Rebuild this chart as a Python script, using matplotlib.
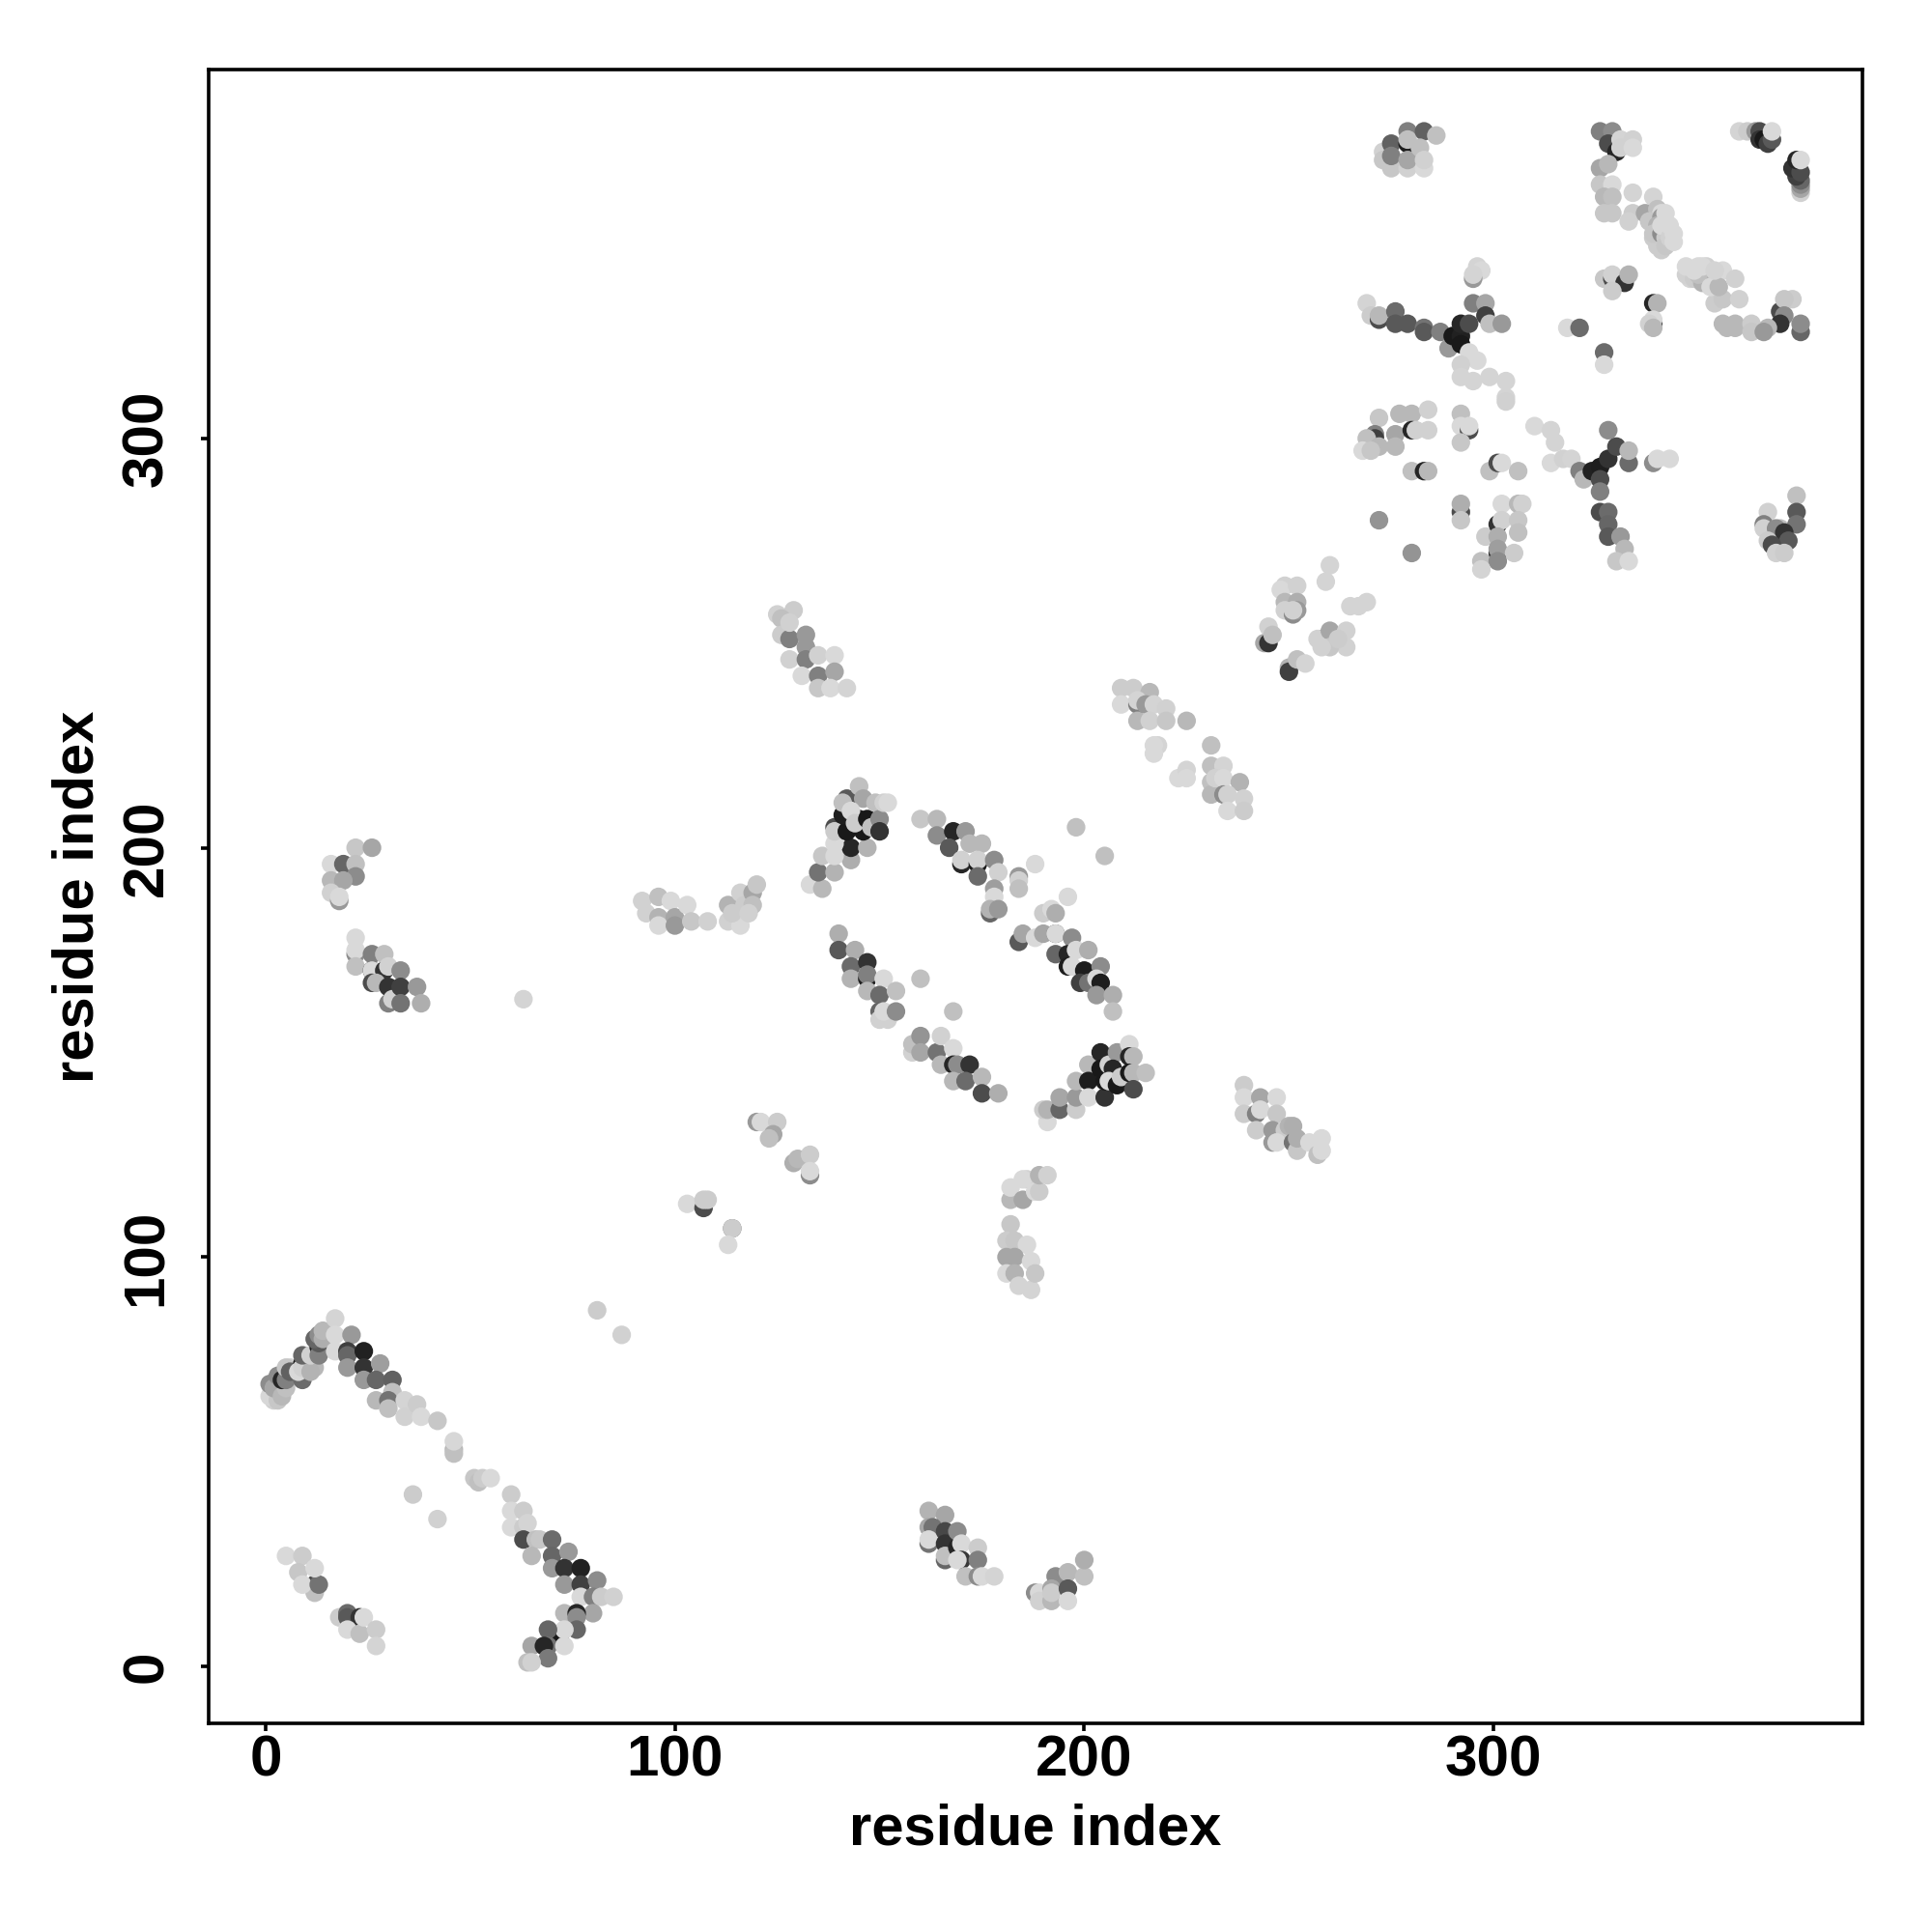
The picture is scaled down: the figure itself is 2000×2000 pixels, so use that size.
import numpy as np
import matplotlib
matplotlib.use('Agg')
import matplotlib.pyplot as plt

# contact points: (residue i, residue j, grey level), back to front
arch_left = [(2,65,.82),(1,66,.84),(3,65,.78),(1,69,.55),(2,68,.65),(4,66,.72),(5,68,.75),(3,71,.55),(4,70,.15),
             (5,70,.5),(9,70,.42),(6,73,.82),(5,73,.78),(6,72,.38),(9,74,.1),(8,72,.85),(9,73,.82),(12,73,.72),
             (11,72,.7),(9,76,.4),(11,76,.82),(13,78,.12),(13,76,.5),(13,79,.35),(12,80,.4),(13,81,.55),(14,80,.68),(14,82,.72)]
arch_right = [(17,85,.83),(17,81,.85),(17,77,.85),(21,81,.6),(20,77,.25),(20,76,.4),(24,77,.13),(20,73,.6),(24,73,.2),
              (28,74,.62),(24,70,.6),(27,70,.4),(31,70,.38),(27,65,.72),(31,67,.75),(30,65,.45),(30,63,.75),(34,65,.83),
              (34,61,.82),(37,64,.8),(38,61,.85),(42,60,.78),(46,53,.72),(46,52,.75),(46,55,.84),(51,46,.78),(52,45,.75),
              (53,46,.8),(55,46,.85),(36,42,.8),(42,36,.82),(81,87,.8),(87,81,.82)]
vee = [(60,42,.8),(60,38,.85),(63,38,.8),(60,34,.85),(63,34,.8),(64,35,.83),(63,31,.3),(66,31,.75),(67,31,.78),(65,27,.72),
       (70,31,.42),(70,27,.4),(70,24,.6),(74,28,.6),(73,24,.2),(77,24,.13),(73,20,.6),(77,20,.25),(81,21,.55),(77,17,.85),
       (80,17,.5),(82,17,.8),(85,17,.82),(80,13,.65),(73,13,.72),(76,13,.15),(76,12,.55),(76,9,.4),(72,8,.1),(73,9,.85),
       (69,9,.4),(69,5,.45),(65,5,.65),(68,5,.15),(73,5,.85),(69,2,.48),(64,1,.75),(65,1,.82)]
low_left = [(5,27,.85),(9,27,.8),(8,23,.78),(12,20,.3),(12,18,.75),(9,20,.85),(13,20,.45),(12,24,.85),(18,12,.8),(20,13,.42),
            (20,12,.35),(23,12,.2),(20,9,.85),(23,8,.75),(24,12,.85),(27,9,.8),(27,5,.83)]
low_mid = [(162,38,.7),(166,37,.65),(162,34,.65),(163,34,.45),(162,30,.45),(162,31,.85),(166,33,.28),(166,30,.2),(166,26,.4),
           (166,27,.75),(169,33,.55),(169,29,.15),(170,30,.85),(170,26,.22),(169,26,.85),(171,22,.75),(174,29,.8),(174,26,.5),
           (174,22,.55),(175,22,.85),(178,22,.83)]
low_right = [(188,18,.55),(189,18,.85),(189,16,.82),(193,22,.55),(192,19,.65),(192,16,.72),(192,18,.8),(196,23,.72),(196,19,.35),
             (196,16,.85),(200,22,.75),(200,26,.68)]
left_upper = [(22,200,.78),(26,200,.65),(16,196,.85),(19,196,.4),(22,196,.75),(22,193,.55),(16,192,.72),(19,192,.65),(16,189,.82),
              (18,187,.6),(18,188,.85)]
left_lower = [(22,178,.85),(22,174,.55),(22,175,.85),(22,171,.75),(26,174,.5),(29,174,.75),(26,170,.15),(26,170,.85),(29,170,.2),
              (30,171,.82),(33,170,.55),(26,167,.3),(27,167,.72),(30,166,.2),(30,162,.5),(31,163,.82),(33,166,.25),(37,166,.6),
              (33,162,.45),(38,162,.68),(63,163,.83)]
top_band = [(125,257,.82),(129,258,.8),(126,256,.75),(126,252,.8),(128,251,.5),(128,255,.82),(128,246,.82),(132,252,.6),(132,249,.6),
            (132,246,.5),(131,242,.85),(135,242,.5),(135,247,.82),(139,247,.85),(139,243,.65),(135,239,.78),(138,239,.85),(142,239,.83)]
mid_flat = [(92,187,.82),(93,184,.82),(96,188,.75),(96,183,.7),(96,181,.85),(99,187,.85),(100,183,.65),(100,181,.6),(103,186,.85),
            (104,182,.78),(108,182,.82),(113,182,.82),(116,181,.85),(113,186,.7),(116,189,.82),(117,186,.8),(119,189,.65),(119,186,.75),
            (120,191,.78),(114,184,.8),(118,184,.82)]
knot_a = [(133,191,.85),(136,190,.72),(135,194,.45),(139,194,.7),(136,198,.78),(143,197,.68),(139,198,.85),(143,200,.15),(139,201,.85),
          (139,205,.3),(139,204,.8),(147,200,.7),(142,204,.1),(141,208,.12),(142,212,.35),(141,211,.75),(145,215,.75),(146,212,.65),
          (145,207,.12),(146,204,.1),(143,209,.85),(144,206,.8),(147,207,.1),(148,205,.75),(149,211,.75),(150,207,.55),(150,204,.2),
          (151,211,.82),(152,211,.85)]
band_b = [(160,207,.78),(164,207,.72),(164,203,.55),(168,204,.15),(171,204,.6),(167,200,.35),(172,201,.72),(175,201,.72),(170,196,.15),
          (170,197,.82),(174,196,.1),(174,197,.82),(178,197,.55),(174,193,.42),(179,194,.82),(178,190,.62),(178,188,.85),(177,184,.4),
          (177,185,.7),(179,185,.6),(184,193,.6),(184,192,.82),(184,190,.75),(188,196,.85),(198,205,.75),(205,198,.75)]
band_c = [(196,188,.85),(190,184,.8),(192,185,.85),(193,184,.68),(184,177,.35),(185,179,.65),(188,178,.85),(190,179,.65),(193,179,.3),
          (193,179,.85),(197,178,.55),(193,174,.4),(196,174,.15),(198,175,.85),(201,175,.68),(196,171,.12),(197,171,.85),(200,170,.12),
          (204,171,.55),(199,167,.25),(201,167,.45),(203,168,.85),(204,167,.12),(203,164,.6),(207,164,.68),(207,160,.75)]
band_d = [(140,179,.68),(140,175,.35),(144,175,.68),(143,171,.42),(143,168,.7),(147,172,.2),(147,168,.12),(147,169,.5),(147,165,.72),
          (151,168,.85),(150,164,.42),(154,165,.75),(150,160,.4),(150,158,.82),(152,158,.82),(151,160,.85),(154,160,.55),(160,168,.75),(168,160,.75)]
band_e = [(158,150,.82),(158,152,.75),(160,154,.58),(160,150,.65),(164,150,.45),(165,154,.82),(165,147,.72),(168,151,.85),(168,147,.15),
          (169,147,.55),(172,147,.2),(168,143,.72),(171,143,.42),(175,144,.72),(175,140,.3),(179,140,.68)]
knot_f = [(191,133,.85),(190,136,.8),(191,136,.7),(194,136,.4),(194,139,.65),(198,136,.8),(198,139,.6),(198,143,.72),(201,147,.72),(201,143,.12),
          (201,139,.85),(205,139,.2),(205,143,.1),(204,150,.15),(204,146,.1),(206,147,.82),(208,150,.6),(207,146,.15),(206,143,.85),(208,142,.1),
          (209,144,.8),(211,152,.85),(211,149,.15),(212,149,.72),(211,145,.1),(212,145,.72),(212,141,.3),(215,145,.75)]
sparse_mid = [(120,133,.6),(121,133,.85),(125,133,.8),(124,130,.65),(123,129,.75),(129,123,.68),(130,124,.72),(133,125,.8),(133,120,.55),
              (133,121,.85),(103,113,.85),(107,112,.3),(107,114,.8),(108,114,.8),(114,107,.45),(114,107,.8),(113,103,.85)]
col_a = [(182,114,.72),(182,117,.85),(185,114,.65),(186,119,.82),(188,116,.85),(189,116,.8),(185,119,.85),(189,120,.7),(191,120,.82),
         (182,108,.78),(181,104,.8),(183,104,.78),(186,103,.85),(181,100,.65),(183,100,.65),(181,96,.85),(183,96,.7),(187,99,.85),(184,93,.83),
         (187,92,.83),(188,96,.78)]
band_g = [(239,142,.8),(239,139,.85),(239,135,.8),(243,139,.65),(242,135,.5),(247,139,.85),(243,136,.85),(242,131,.8),(247,135,.78),(246,131,.6),
          (246,128,.6),(249,131,.8),(250,132,.7),(247,128,.85),(251,132,.68),(251,128,.45),(252,126,.78),(252,129,.68),(255,128,.85),(257,125,.75),
          (258,129,.85),(258,126,.85)]
band_h = [(209,239,.8),(212,239,.8),(209,235,.85),(216,238,.72),(213,235,.5),(213,236,.83),(213,231,.72),(215,235,.6),(217,235,.83),(220,234,.82),
          (216,231,.82),(220,231,.78),(225,231,.72),(218,225,.83),(217,225,.85),(217,223,.85),(223,217,.85),(225,219,.83),(225,217,.85),(231,225,.75),
          (231,220,.75),(234,220,.83),(231,216,.75),(231,213,.72),(232,217,.82),(234,217,.85),(234,213,.55),(238,216,.7),(235,213,.82),(239,212,.82),
          (235,209,.85),(239,209,.8)]
band_i = [(260,269,.83),(259,265,.83),(265,259,.83),(269,260,.83),(267,259,.83),(259,251,.65),(258,251,.55),(257,251,.82),(260,253,.65),(264,253,.82),
          (264,249,.82),(260,249,.78),(258,249,.82),(262,251,.8),(249,264,.82),(248,263,.85),(252,264,.82),(249,260,.72),(252,260,.68),(249,258,.82),
          (251,257,.55),(252,258,.6),(251,258,.82),(244,250,.65),(245,250,.2),(245,254,.82),(246,252,.75),(250,244,.7),(250,243,.25),(252,246,.75),(254,245,.83)]
top_left = [(273,370,.82),(273,368,.78),(275,366,.78),(275,372,.38),(275,369,.5),(279,366,.82),(279,375,.5),(279,372,.12),(279,373,.75),(279,368,.65),
            (283,375,.38),(282,371,.75),(283,366,.85),(283,368,.82),(286,374,.75)]
top_mid = [(326,375,.5),(329,375,.55),(328,372,.3),(330,370,.15),(331,373,.83),(334,373,.82),(331,371,.82),(334,371,.85),(326,366,.65),(328,367,.72),
           (326,362,.78),(329,362,.85),(327,359,.72),(329,359,.75),(327,355,.78),(329,355,.78),(334,360,.83),(339,359,.83),(334,355,.8),(333,353,.82),
           (337,355,.65),(340,356,.75),(341,355,.85),(338,353,.78),(341,354,.6),(340,352,.7),(339,349,.8),(340,347,.8),(339,350,.78),(341,350,.55),
           (342,349,.8),(341,346,.8),(342,347,.78),(343,351,.85),(341,352,.85),(343,349,.82),(343,352,.85),(344,350,.85),(342,355,.85),(344,348,.85)]
top_right = [(360,375,.83),(362,375,.8),(364,375,.6),(365,375,.3),(365,373,.2),(366,373,.1),(367,372,.25),(368,373,.35),(368,375,.85),
             (375,360,.82),(375,361,.65),(375,362,.55),(375,363,.4),(374,364,.25),(373,366,.2),(375,365,.3),(374,368,.15),(375,368,.85)]
cross_a = [(296,342,.83),(297,341,.85),(295,339,.6),(295,340,.83),(269,333,.83),(270,330,.8),(272,329,.3),(272,330,.72),(276,331,.42),(276,328,.35),
           (279,328,.35),(283,327,.45),(283,326,.35),(287,326,.5),(289,322,.6),(290,325,.1),(292,325,.13),(292,328,.15),(292,323,.1),(294,328,.3),
           (295,333,.5),(298,333,.65),(298,330,.25),(299,328,.75),(302,328,.6),(294,321,.85),(296,319,.85),(292,318,.82),(292,315,.83),(295,314,.83),
           (299,315,.83),(303,314,.83),(303,310,.83),(303,309,.82)]
mid_right = [(327,339,.78),(329,339,.3),(329,340,.82),(332,338,.2),(333,340,.7),(329,336,.8),(339,333,.15),(340,333,.7),(339,328,.2),(339,329,.85),
             (338,328,.82),(339,327,.72),(370,331,.3),(373,334,.8),(371,334,.78),(371,330,.55),(370,328,.2),(375,326,.4),(375,328,.55),(354,333,.8),
             (356,334,.78),(360,334,.82),(356,328,.72),(359,328,.72),(357,327,.72),(359,327,.72),(363,328,.8),(363,326,.78),(367,327,.72),(366,326,.6),
             (348,341,.85),(350,342,.85),(348,339,.83),(352,342,.82),(352,339,.8),(347,340,.82),(349,339,.8),(351,338,.7),(350,340,.75),(353,337,.85),
             (351,342,.85),(349,341,.85),(347,342,.85),(356,341,.85),(355,337,.72),(359,339,.82),(354,341,.83),(318,327,.85),(321,327,.42),(327,321,.42),(327,318,.85)]
low_group = [(272,305,.78),(277,306,.72),(280,306,.72),(284,307,.82),(276,301,.65),(280,302,.15),(281,302,.82),(284,302,.82),(271,301,.5),(271,300,.25),
             (269,300,.75),(276,298,.72),(272,298,.72),(268,297,.85),(270,297,.78),(280,292,.75),(283,292,.15),(284,292,.72),(292,306,.75),(292,303,.85),
             (294,302,.3),(294,303,.85),(292,299,.78),(299,292,.75),(301,294,.3),(302,294,.85),(306,292,.75),(292,282,.3),(292,284,.68),(292,280,.78),
             (272,280,.58),(280,272,.58)]
column_c = [(298,276,.8),(297,270,.75),(302,284,.85),(301,279,.2),(302,280,.82),(301,276,.68),(301,272,.2),(301,273,.62),(306,284,.72),(307,284,.82),
            (306,280,.78),(306,277,.75),(305,272,.8),(301,270,.55),(297,268,.83)]
cross_b = [(310,303,.85),(314,302,.83),(315,299,.83),(314,294,.85),(317,295,.82),(319,295,.83),(321,292,.5),(322,290,.72),(324,292,.13),(326,293,.12),
           (326,290,.3),(328,295,.2),(328,302,.55),(330,298,.3),(333,294,.42),(333,297,.72),(326,287,.5),(326,282,.3),(328,282,.42),(328,279,.4),
           (328,276,.35),(331,276,.6),(332,273,.72),(330,270,.78),(333,270,.85),(339,294,.55),(340,295,.85),(343,295,.85)]
low_corner = [(367,282,.82),(374,286,.75),(374,282,.35),(366,279,.5),(366,278,.82),(370,278,.75),(374,279,.45),(369,278,.55),(371,277,.2),(367,275,.8),
              (372,275,.35),(368,274,.3),(369,272,.82),(371,272,.8)]

tick_vals = [0, 100, 200, 300]
axis_label = 'residue index'

plt.rcParams['font.family'] = ['Liberation Sans', 'DejaVu Sans']
plt.rcParams['font.weight'] = 'bold'

groups = [arch_left, arch_right, vee, low_left, low_mid, low_right, left_upper, left_lower, top_band, mid_flat,
          knot_a, band_b, band_c, band_d, band_e, knot_f, sparse_mid, col_a, band_g, band_h, band_i, top_left,
          top_mid, top_right, cross_a, mid_right, low_group, column_c, cross_b, low_corner]
pts = np.array([p for g in groups for p in g])

fig = plt.figure(figsize=(10, 10), dpi=200)
ax = fig.add_axes([216 / 2000, 216 / 2000, 1712 / 2000, 1712 / 2000])

ax.scatter(pts[:, 0], pts[:, 1], c=pts[:, 2], cmap='gray', vmin=0, vmax=1, s=48, linewidths=0)

ax.set_xlim(-13.9, 390.1)
ax.set_ylim(-13.9, 390.1)
ax.set_xticks(tick_vals)
ax.set_yticks(tick_vals)
ax.tick_params(axis='x', length=3, width=1.3, labelsize=21.7, pad=1)
ax.tick_params(axis='y', length=3, width=1.3, labelsize=21.7, pad=10)
for lab in ax.get_yticklabels():
    lab.set_rotation(90)
    lab.set_va('center')
for s in ax.spines.values():
    s.set_linewidth(1.3)

ax.set_xlabel(axis_label, fontsize=21.5, fontweight='bold', labelpad=6)
ax.set_ylabel(axis_label, fontsize=21.5, fontweight='bold', labelpad=6)

fig.savefig('out.png', dpi=200)
